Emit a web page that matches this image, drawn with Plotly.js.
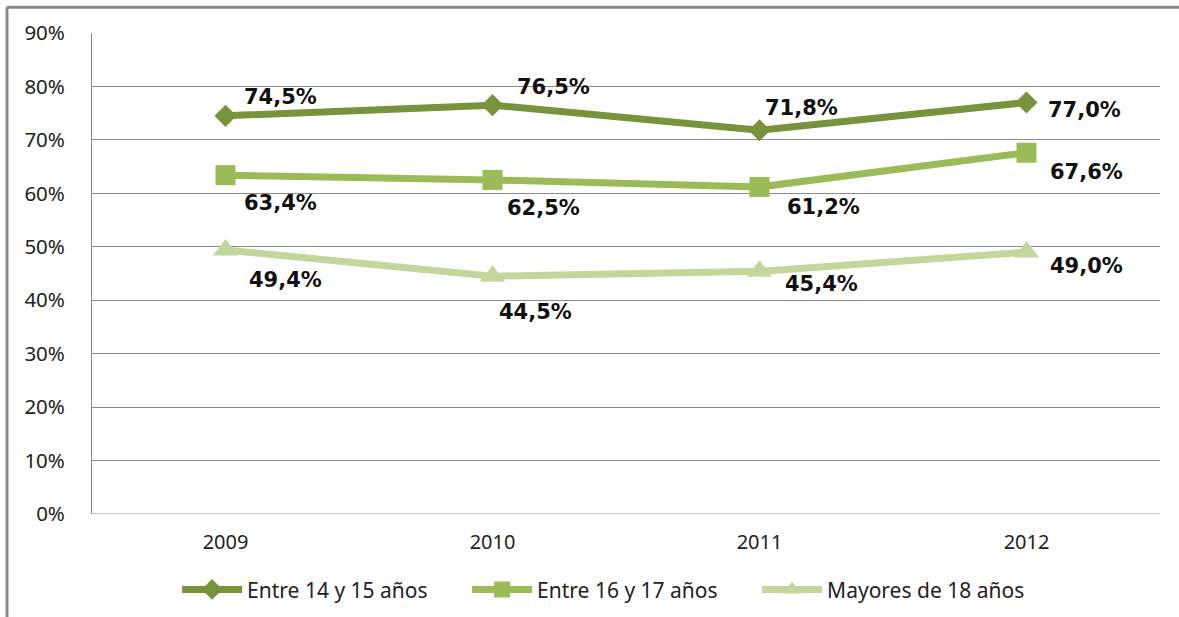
<!DOCTYPE html>
<html>
<head>
<meta charset="utf-8">
<script src="https://cdn.plot.ly/plotly-3.0.1.min.js"></script>
<style>html,body{margin:0;padding:0;background:#fff;}#chart{width:1179px;height:617px;}</style>
</head>
<body>
<div id="chart"></div>
<script>
// ---- data ----
const years = ["2009", "2010", "2011", "2012"];
const seriesNames = ["Entre 14 y 15 años", "Entre 16 y 17 años", "Mayores de 18 años"];
const entre14y15 = [74.5, 76.5, 71.8, 77.0];
const entre16y17 = [63.4, 62.5, 61.2, 67.6];
const mayores18 = [49.4, 44.5, 45.4, 49.0];
const yTicks = [0, 10, 20, 30, 40, 50, 60, 70, 80, 90];

// ---- styles ----
const colors = ["#77933C", "#9BBB59", "#C3D69B"];
const symbols = ["diamond", "square", "triangle-up"];
const markerSizes = [17, 20, 22];
// label offsets in px (dx, dy) per series, per point
const labelOffsets = [
  [[55, -19], [61, -18], [42, -22], [58, 8]],
  [[55, 28], [51, 28], [64, 20], [60, 19]],
  [[60, 30], [43, 36], [62, 13], [60, 14]]
];

const seriesValues = [entre14y15, entre16y17, mayores18];
const fmt = v => v.toFixed(1).replace(".", ",") + "%";

const traces = seriesValues.map((vals, i) => ({
  type: "scatter",
  mode: "lines+markers",
  name: seriesNames[i],
  x: years,
  y: vals,
  line: {color: colors[i], width: 7},
  marker: {symbol: symbols[i], size: markerSizes[i], color: colors[i]},
  hoverinfo: "skip"
}));

const annotations = [];
seriesValues.forEach((vals, i) => {
  vals.forEach((v, j) => {
    annotations.push({
      x: j, y: v, xref: "x", yref: "y",
      text: "<b>" + fmt(v) + "</b>", showarrow: false,
      xshift: labelOffsets[i][j][0], yshift: -labelOffsets[i][j][1],
      font: {family: "DejaVu Sans", size: 21, color: "#111"}
    });
  });
});

const layout = {
  width: 1179, height: 617,
  margin: {l: 92, r: 19, t: 33, b: 103, autoexpand: false},
  paper_bgcolor: "#fff", plot_bgcolor: "#fff",
  showlegend: true,
  legend: {
    orientation: "h", x: 0.487, xanchor: "center", y: -0.115, yanchor: "top",
    font: {family: "Noto Sans", size: 21, color: "#222"},
    itemwidth: 60, tracegroupgap: 0, entrywidth: 215, entrywidthmode: "pixels"
  },
  xaxis: {
    type: "category", range: [-0.5, 3.5],
    showgrid: false, zeroline: false,
    showline: false, ticks: "",
    tickfont: {family: "Noto Sans", size: 20, color: "#222"},
    ticklabelstandoff: 14
  },
  yaxis: {
    range: [0, 90], tickvals: yTicks, ticktext: yTicks.map(t => t + "%"),
    showgrid: true, gridcolor: "#8c8c8c", gridwidth: 1,
    zeroline: false, showline: true, linecolor: "#8c8c8c", linewidth: 1,
    ticks: "", ticklabelstandoff: 22,
    tickfont: {family: "Noto Sans", size: 20.5, color: "#222"}
  },
  annotations: annotations,
  shapes: [
    {type: "line", xref: "paper", yref: "y", x0: 0, x1: 1, y0: 0, y1: 0, line: {color: "#8c8c8c", width: 1}},
    {type: "line", xref: "paper", yref: "paper", x0: -0.0796, x1: 1.1, y0: 1.0536, y1: 1.0536, line: {color: "#8a8a8a", width: 3}},
    {type: "line", xref: "paper", yref: "paper", x0: -0.0796, x1: -0.0796, y0: 1.0536, y1: -0.3, line: {color: "#8a8a8a", width: 3}}
  ]
};

Plotly.newPlot("chart", traces, layout, {displayModeBar: false, staticPlot: true});
</script>
</body>
</html>
